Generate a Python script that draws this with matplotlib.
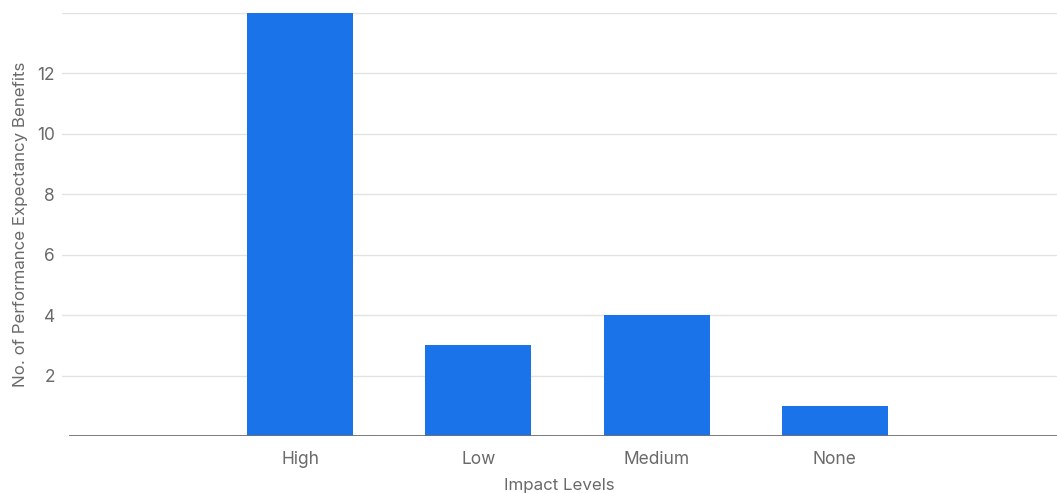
import matplotlib.pyplot as plt

# Impact levels and how many benefits fall into each
niveis = ['High', 'Low', 'Medium', 'None']
beneficios = [14, 3, 4, 1]
yticks = [2, 4, 6, 8, 10, 12]

plt.rcParams['font.family'] = ['Inter', 'DejaVu Sans']
cor_texto = '#6a6a6a'

fig = plt.figure(figsize=(10.57, 4.93), dpi=100)
ax = fig.add_axes([0.0587, 0.1156, 0.9413, 0.858])

x = range(len(niveis))
ax.bar(x, beneficios, width=0.595, color='#1a73e8', zorder=3)

ax.set_xlim(-1.335, 4.246)
ax.set_ylim(0, 14)

# gridlines at every 2, including the top one
for v in yticks + [14]:
    ax.axhline(v, color='#e3e3e3', linewidth=1, zorder=1)
ax.axhline(0, xmin=0.008, color='#707070', linewidth=1.3, zorder=4)

ax.set_yticks(yticks)
ax.set_yticklabels([str(v) for v in yticks])
ax.set_xticks(list(x))
ax.set_xticklabels(niveis)
ax.tick_params(axis='both', length=0, colors=cor_texto, labelsize=12.5)
ax.tick_params(axis='y', pad=5)
ax.tick_params(axis='x', pad=11)

for s in ax.spines.values():
    s.set_visible(False)

ax.set_xlabel('Impact Levels', color=cor_texto, fontsize=12.2, labelpad=7)
ax.set_ylabel('No. of Performance Expectancy Benefits', color=cor_texto,
              fontsize=12.2, labelpad=7)

fig.savefig('out.png', dpi=100, facecolor='white')
